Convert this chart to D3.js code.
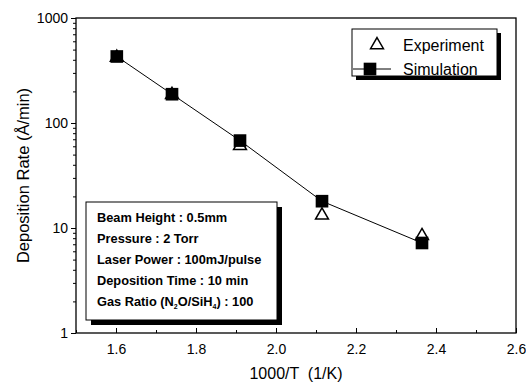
<!DOCTYPE html>
<html><head><meta charset="utf-8">
<script src="https://cdn.jsdelivr.net/npm/d3@7/dist/d3.min.js"></script>
<style>body{margin:0;background:#fff}svg{display:block;font-family:"Liberation Sans",Arial,sans-serif}</style>
</head><body><svg id="c" width="526" height="382"></svg>
<script>
const simX = [1.602, 1.74, 1.91, 2.115, 2.365];
const simY = [430, 188, 68, 18, 7.2];
const expX = [1.602, 1.74, 1.91, 2.115, 2.365];
const expY = [430, 190, 62, 13.5, 8.6];
const xTicks = [1.6, 1.8, 2.0, 2.2, 2.4, 2.6];
const yTicks = [1, 10, 100, 1000];
const infoLines = ["Beam Height : 0.5mm", "Pressure : 2 Torr", "Laser Power : 100mJ/pulse", "Deposition Time : 10 min"];

const svg = d3.select("#c");
const L = 76, R = 516, T = 18, B = 333;
const x = d3.scaleLinear().domain([1.5, 2.6]).range([L, R]);
const y = d3.scaleLog().domain([1, 1000]).range([B, T]);

// frame
svg.append("rect").attr("x", L).attr("y", T).attr("width", R - L).attr("height", B - T)
  .attr("fill", "none").attr("stroke", "#000").attr("stroke-width", 1.3);

// x axis
const xMinor = d3.range(1.5, 2.601, 0.1);
svg.append("g").attr("transform", `translate(0,${B})`)
  .call(d3.axisBottom(x).tickValues(xMinor).tickSize(-3).tickFormat(""))
  .call(g => g.select(".domain").remove());
const gx = svg.append("g").attr("transform", `translate(0,${B})`)
  .call(d3.axisBottom(x).tickValues(xTicks).tickSize(-5).tickPadding(11).tickFormat(d3.format(".1f")));
gx.select(".domain").remove();
gx.selectAll("text").attr("font-size", 14).attr("font-family", "Liberation Sans, Arial");

// y axis
const yMinor = [];
for (let d = 1; d < 1000; d *= 10) for (let k = 2; k <= 9; k++) yMinor.push(d * k);
svg.append("g").attr("transform", `translate(${L},0)`)
  .call(d3.axisLeft(y).tickValues(yMinor).tickSize(3).tickFormat(""))
  .call(g => g.select(".domain").remove());
const gy = svg.append("g").attr("transform", `translate(${L},0)`)
  .call(d3.axisLeft(y).tickValues(yTicks).tickSize(5).tickPadding(3).tickFormat(d3.format("d")));
gy.select(".domain").remove();
gy.selectAll("text").attr("font-size", 14).attr("font-family", "Liberation Sans, Arial");

// axis titles
svg.append("text").attr("x", 296).attr("y", 379).attr("text-anchor", "middle")
  .attr("font-size", 16).attr("xml:space", "preserve").text("1000/T  (1/K)");
svg.append("text").attr("transform", `translate(29,${(T + B) / 2}) rotate(-90)`)
  .attr("text-anchor", "middle").attr("font-size", 16.5).text("Deposition Rate (Å/min)");

// simulation line
const line = d3.line().x(d => x(d[0])).y(d => y(d[1]));
const sim = simX.map((v, i) => [v, simY[i]]);
const exp = expX.map((v, i) => [v, expY[i]]);
svg.append("path").datum(sim).attr("d", line).attr("fill", "none").attr("stroke", "#000").attr("stroke-width", 1);

const tri = d3.symbol().type(d3.symbolTriangle).size(72);
const sq = d3.symbol().type(d3.symbolSquare).size(160);
svg.selectAll(".exp").data(exp).join("path").attr("class", "exp")
  .attr("transform", d => `translate(${x(d[0])},${y(d[1]) + 1})`)
  .attr("d", tri).attr("fill", "#fff").attr("stroke", "#000").attr("stroke-width", 1.5);
svg.selectAll(".sim").data(sim).join("path").attr("class", "sim")
  .attr("transform", d => `translate(${x(d[0])},${y(d[1])})`)
  .attr("d", sq).attr("fill", "#000");

// legend
const lg = svg.append("g");
lg.append("rect").attr("x", 356).attr("y", 33).attr("width", 145).attr("height", 47).attr("fill", "#000");
lg.append("rect").attr("x", 352).attr("y", 29).attr("width", 145).attr("height", 47)
  .attr("fill", "#fff").attr("stroke", "#000").attr("stroke-width", 1);
lg.append("path").attr("transform", "translate(377,45)").attr("d", tri).attr("fill", "#fff")
  .attr("stroke", "#000").attr("stroke-width", 1.5);
lg.append("text").attr("x", 403).attr("y", 51).attr("font-size", 16).text("Experiment");
lg.append("line").attr("x1", 353).attr("x2", 391).attr("y1", 69).attr("y2", 69).attr("stroke", "#000");
lg.append("path").attr("transform", "translate(370,69)").attr("d", sq).attr("fill", "#000");
lg.append("text").attr("x", 403).attr("y", 75).attr("font-size", 16).text("Simulation");

// info box
const ib = svg.append("g");
ib.append("rect").attr("x", 91).attr("y", 207).attr("width", 191).attr("height", 118).attr("fill", "#000");
ib.append("rect").attr("x", 86).attr("y", 202).attr("width", 191).attr("height", 118)
  .attr("fill", "#fff").attr("stroke", "#000").attr("stroke-width", 1);
infoLines.forEach((t, i) => {
  ib.append("text").attr("x", 97).attr("y", 222 + i * 21).attr("font-size", 12.8)
    .attr("font-weight", "bold").text(t);
});
const gas = ib.append("text").attr("x", 97).attr("y", 306).attr("font-size", 12.8).attr("font-weight", "bold");
gas.append("tspan").text("Gas Ratio (N");
gas.append("tspan").attr("font-size", 7).attr("dy", 3).text("2");
gas.append("tspan").attr("dy", -3).text("O/SiH");
gas.append("tspan").attr("font-size", 7).attr("dy", 3).text("4");
gas.append("tspan").attr("dy", -3).text(") : 100");
</script></body></html>
